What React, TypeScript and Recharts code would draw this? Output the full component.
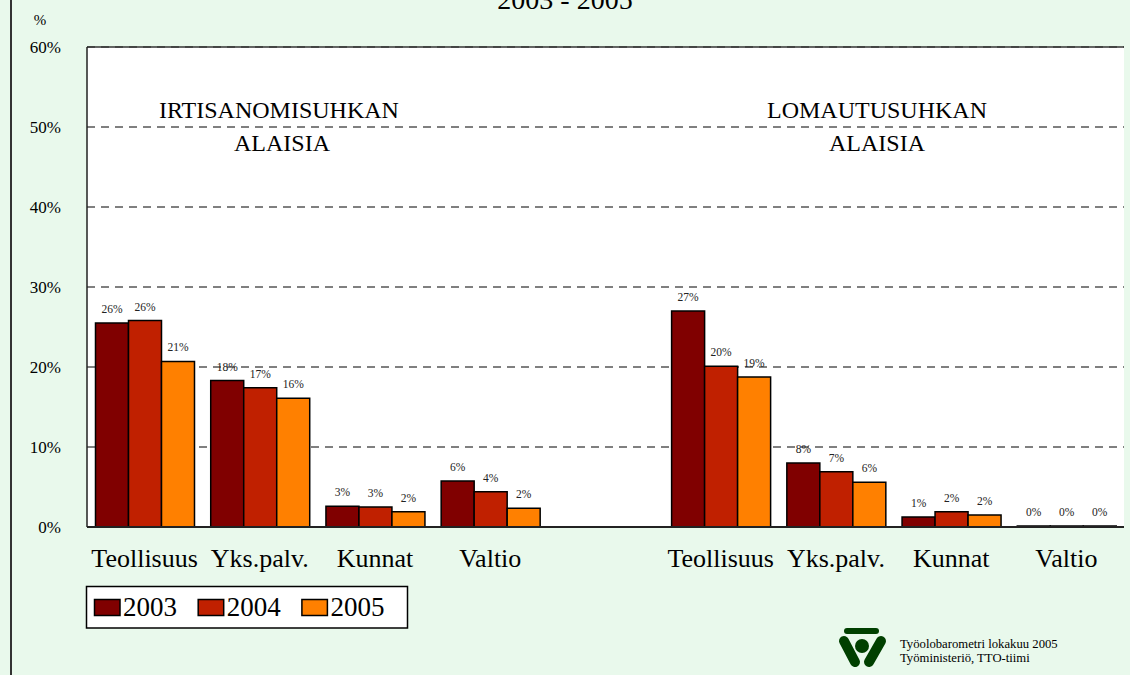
// Irtisanomis- ja lomautusuhan alaisten osuus sektoreittain 2003-2005, Recharts-versio.
import { BarChart, Bar, XAxis, YAxis, CartesianGrid, ReferenceLine, LabelList } from "recharts";

const FONT = "Liberation Serif, Times New Roman, serif";
const BG = "#E9F9EC";

// 4 sektoria irtisanomisuhka, tyhjä väli, 4 sektoria lomautusuhka
const CATEGORIES = [
  "Teollisuus",
  "Yks.palv.",
  "Kunnat",
  "Valtio",
  "",
  "Teollisuus",
  "Yks.palv.",
  "Kunnat",
  "Valtio",
];
const V2003 = [25.5, 18.3, 2.6, 5.75, null, 27.0, 8.0, 1.25, 0];
const V2004 = [25.8, 17.4, 2.5, 4.4, null, 20.1, 6.9, 1.9, 0];
const V2005 = [20.7, 16.1, 1.9, 2.35, null, 18.75, 5.6, 1.5, 0];

const YEARS = ["2003", "2004", "2005"];
const COLORS = ["#800000", "#C02000", "#FF8000"];
const Y_TICKS = [0, 10, 20, 30, 40, 50, 60];

const data = CATEGORIES.map((name, i) => ({
  id: i,
  name,
  y2003: V2003[i],
  y2004: V2004[i],
  y2005: V2005[i],
}));

const txt = { fontFamily: FONT };

// arvo tekstinä pylvään yläpuolelle; tyhjä väli ohitetaan
// eslint-disable-next-line @typescript-eslint/no-explicit-any
const valueLabel = (props: any) => {
  const { value } = props;
  if (value == null) return null;
  const x = Number(props.x) || 0;
  const y = Number(props.y) || 0;
  const w = Number(props.width) || 0;
  return (
    <text x={x + w / 2} y={y - 10} textAnchor="middle" fontSize={11.5} fill="#222" style={txt}>
      {`${Math.round(Number(value))}%`}
    </text>
  );
};

function Logo() {
  return (
    <g stroke="#004000" strokeLinecap="round" fill="#004000">
      <line x1={847} y1={631} x2={876} y2={631} strokeWidth={6} />
      <line x1={844} y1={641} x2={855} y2={662} strokeWidth={10} />
      <line x1={881} y1={641} x2={869} y2={662} strokeWidth={10} />
      <circle cx={862} cy={646} r={7} stroke="none" />
    </g>
  );
}

export default function App() {
  return (
    <div
      style={{
        position: "absolute",
        left: 0,
        top: 0,
        width: 1130,
        height: 675,
        background: BG,
        overflow: "hidden",
        fontFamily: FONT,
      }}
    >
      <style>{"body{margin:0} .recharts-text{font-family:'Liberation Serif',serif}"}</style>
      <div style={{ position: "absolute", left: 10, top: 0, width: 2, height: 675, background: "#333" }} />
      <BarChart
        width={1130}
        height={675}
        data={data}
        margin={{ top: 47, right: 6, bottom: 0, left: 0 }}
        barGap={0}
        barCategoryGap={8.5}
      >
        <CartesianGrid vertical={false} fill="#fff" fillOpacity={1} stroke="#000" strokeDasharray="8 6" />
        <XAxis
          dataKey="id"
          type="category"
          interval={0}
          height={148}
          tickFormatter={(i) => CATEGORIES[Number(i)] ?? ""}
          tick={{ fontSize: 26, fill: "#000", style: txt }}
          tickLine={false}
          tickSize={0}
          tickMargin={22}
          axisLine={{ stroke: "#222", strokeWidth: 2 }}
        />
        <YAxis
          domain={[0, 60]}
          ticks={Y_TICKS}
          width={87}
          tickFormatter={(v) => `${v}%`}
          tick={{ fontSize: 17, fill: "#000", style: txt }}
          tickLine={false}
          tickSize={0}
          tickMargin={26}
          axisLine={{ stroke: "#222", strokeWidth: 1.5 }}
        />
        <YAxis
          yAxisId="r"
          orientation="right"
          domain={[0, 60]}
          width={0}
          tick={false}
          tickLine={false}
          axisLine={{ stroke: "#222", strokeWidth: 2 }}
        />
        <ReferenceLine y={60} stroke="#333" strokeWidth={1.5} />
        {YEARS.map((yr, k) => (
          <Bar
            key={yr}
            dataKey={`y${yr}`}
            name={yr}
            fill={COLORS[k]}
            stroke="#000"
            strokeWidth={1.5}
            minPointSize={(v: number) => (v === 0 ? 1 : 0)}
            isAnimationActive={false}
          >
            <LabelList dataKey={`y${yr}`} content={valueLabel} />
          </Bar>
        ))}
      </BarChart>

      <svg
        width={1130}
        height={675}
        style={{ position: "absolute", left: 0, top: 0, pointerEvents: "none", fontFamily: FONT }}
      >
        <text x={565} y={9} textAnchor="middle" fontSize={28} fill="#000" style={txt}>
          2003 - 2005
        </text>
        <text x={40} y={25} textAnchor="middle" fontSize={15} fill="#000" style={txt}>
          %
        </text>
        <text x={279} y={118} textAnchor="middle" fontSize={24} fill="#000" style={txt}>
          IRTISANOMISUHKAN
        </text>
        <text x={282} y={151} textAnchor="middle" fontSize={24} fill="#000" style={txt}>
          ALAISIA
        </text>
        <text x={877} y={118} textAnchor="middle" fontSize={24} fill="#000" style={txt}>
          LOMAUTUSUHKAN
        </text>
        <text x={877} y={151} textAnchor="middle" fontSize={24} fill="#000" style={txt}>
          ALAISIA
        </text>

        {/* selite */}
        <rect x={86.5} y={586.5} width={321} height={41.5} fill="#fff" stroke="#000" strokeWidth={1.5} />
        {YEARS.map((yr, k) => (
          <g key={yr}>
            <rect x={94.5 + k * 103.7} y={599.5} width={25.5} height={16} fill={COLORS[k]} stroke="#000" strokeWidth={1.5} />
            <text x={123 + k * 103.7} y={616} fontSize={27} fill="#000" style={txt}>
              {yr}
            </text>
          </g>
        ))}

        <Logo />
        <text x={900} y={648} fontSize={12.7} fill="#000" style={txt}>
          Työolobarometri lokakuu 2005
        </text>
        <text x={900} y={662} fontSize={12.7} fill="#000" style={txt}>
          Työministeriö, TTO-tiimi
        </text>
      </svg>
    </div>
  );
}
